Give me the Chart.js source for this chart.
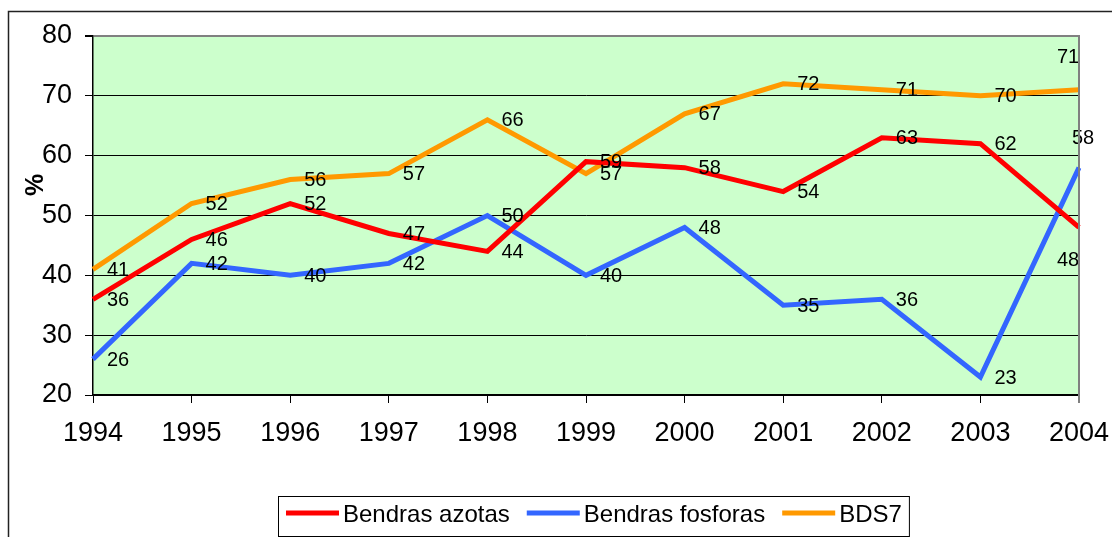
<!DOCTYPE html>
<html>
<head>
<meta charset="utf-8">
<script src="https://cdn.jsdelivr.net/npm/chart.js@4/dist/chart.umd.min.js"></script>
<style>
  html, body { margin: 0; padding: 0; background: #fff; }
  canvas { display: block; }
</style>
</head>
<body>
<canvas id="chart" width="1112" height="537"></canvas>
<script>
var years = ["1994", "1995", "1996", "1997", "1998", "1999", "2000", "2001", "2002", "2003", "2004"];
var azotas = [36, 46, 52, 47, 44, 59, 58, 54, 63, 62, 48];
var fosforas = [26, 42, 40, 42, 50, 40, 48, 35, 36, 23, 58];
var bds7 = [41, 52, 56, 57, 66, 57, 67, 72, 71, 70, 71];
var seriesNames = ["Bendras azotas", "Bendras fosforas", "BDS7"];

// labels that were moved off the default spot (dataset -> index -> [dx, dy] of text centre)
var labelMoves = [
  { 10: [-11, 33] },
  { 10: [4, -29] },
  { 10: [-11, -32] }
];

var FONT = "'Liberation Sans', Arial, sans-serif";

var framePlugin = {
  id: "frame",
  beforeDraw: function (chart) {
    var c = chart.ctx, a = chart.chartArea;
    c.save();
    c.fillStyle = "#fff";
    c.fillRect(0, 0, chart.width, chart.height);
    c.fillStyle = "#CCFFCC";
    c.fillRect(a.left, a.top, a.right - a.left, a.bottom - a.top);
    // outer chart border
    c.strokeStyle = "#222";
    c.lineWidth = 1.5;
    c.beginPath();
    c.moveTo(8.5, chart.height + 2);
    c.lineTo(8.5, 11.5);
    c.lineTo(chart.width + 2, 11.5);
    c.stroke();
    c.restore();
  },
  afterDraw: function (chart) {
    var c = chart.ctx, a = chart.chartArea;
    c.save();
    // right border of plot
    c.strokeStyle = "#808080";
    c.lineWidth = 2;
    c.beginPath();
    c.moveTo(Math.round(a.right), a.top - 1);
    c.lineTo(Math.round(a.right), a.bottom + 8);
    c.stroke();

    // y title
    c.fillStyle = "#000";
    c.font = "bold 25px " + FONT;
    c.translate(36, 185);
    c.rotate(-Math.PI / 2);
    c.textAlign = "center";
    c.textBaseline = "middle";
    c.fillText("%", 0, 0);
    c.restore();

    // legend
    c.save();
    c.font = "24px " + FONT;
    c.textBaseline = "alphabetic";
    var x = 286, y = 513;
    chart.data.datasets.forEach(function (ds, i) {
      c.strokeStyle = ds.borderColor;
      c.lineWidth = 5;
      c.beginPath();
      c.moveTo(x, y);
      c.lineTo(x + 53, y);
      c.stroke();
      x += 57;
      c.fillStyle = "#000";
      c.fillText(ds.label, x, 522);
      x += c.measureText(ds.label).width;
      if (i < chart.data.datasets.length - 1) x += 17;
    });
    c.strokeStyle = "#000";
    c.lineWidth = 1;
    c.strokeRect(278.5, 496.5, x + 7 - 278, 40);
    c.restore();
  },
  afterDatasetsDraw: function (chart) {
    var c = chart.ctx;
    c.save();
    c.fillStyle = "#000";
    c.font = "20px " + FONT;
    c.textBaseline = "middle";
    chart.data.datasets.forEach(function (ds, i) {
      var meta = chart.getDatasetMeta(i);
      meta.data.forEach(function (pt, j) {
        var mv = labelMoves[i][j];
        if (mv) {
          c.textAlign = "center";
          c.fillText(ds.data[j], pt.x + mv[0], pt.y + mv[1]);
        } else {
          c.textAlign = "left";
          c.fillText(ds.data[j], pt.x + 14, pt.y + 1);
        }
      });
    });
    c.restore();
  }
};

var ctx = document.getElementById("chart").getContext("2d");
new Chart(ctx, {
  type: "line",
  data: {
    labels: years,
    datasets: [
      { label: seriesNames[0], data: azotas, borderColor: "#FF0000" },
      { label: seriesNames[1], data: fosforas, borderColor: "#3366FF" },
      { label: seriesNames[2], data: bds7, borderColor: "#FF9900" }
    ]
  },
  options: {
    responsive: false,
    animation: false,
    devicePixelRatio: 1,
    layout: { padding: { left: 0, top: 36, right: 33, bottom: 0 } },
    elements: {
      line: { borderWidth: 5, tension: 0, fill: false, borderJoinStyle: "miter" },
      point: { radius: 0, hoverRadius: 0 }
    },
    plugins: {
      legend: { display: false },
      tooltip: { enabled: false }
    },
    scales: {
      x: {
        offset: false,
        grid: { drawOnChartArea: false, drawTicks: true, tickLength: 8, color: "#000" },
        border: { color: "#000", width: 1.5 },
        ticks: { color: "#000", font: { family: FONT, size: 27 }, padding: 14, maxRotation: 0 },
        afterFit: function (s) {
          s.height = 142;
          s.paddingLeft = 0;
          s.paddingRight = 0;
        }
      },
      y: {
        min: 20,
        max: 80,
        grid: {
          color: function (ctx) { return ctx.tick && ctx.tick.value === 80 ? "#808080" : "#000"; },
          lineWidth: function (ctx) { return ctx.tick && ctx.tick.value === 80 ? 2 : 1; },
          tickLength: 8,
          tickColor: "#000"
        },
        border: { color: "#000", width: 1.5 },
        ticks: { stepSize: 10, color: "#000", font: { family: FONT, size: 27 }, padding: 13 },
        afterFit: function (s) {
          s.width = 93;
          s.paddingTop = 0;
          s.paddingBottom = 0;
        }
      }
    }
  },
  plugins: [framePlugin]
});
</script>
</body>
</html>
